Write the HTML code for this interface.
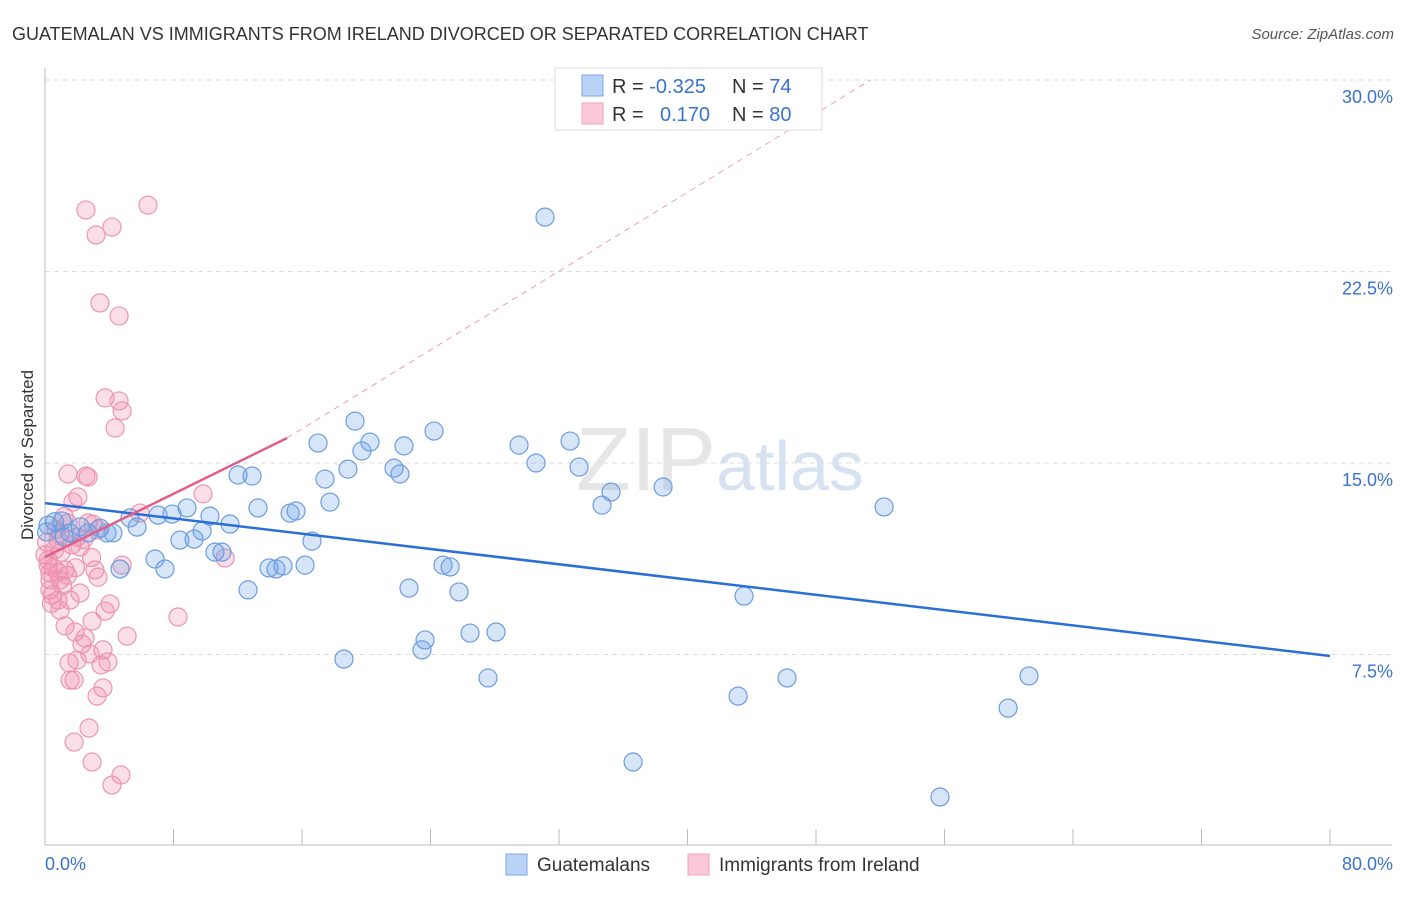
<!DOCTYPE html>
<html><head><meta charset="utf-8"><style>
body{margin:0;background:#fff;font-family:"Liberation Sans",sans-serif}
svg text{font-family:"Liberation Sans",sans-serif}
</style></head><body>
<svg width="1406" height="892">
<text x="12" y="40" font-size="18" fill="#333">GUATEMALAN VS IMMIGRANTS FROM IRELAND DIVORCED OR SEPARATED CORRELATION CHART</text>
<text x="1394" y="39" font-size="15" fill="#555" font-style="italic" text-anchor="end">Source: ZipAtlas.com</text>
<text x="33" y="455" font-size="17" fill="#333" text-anchor="middle" transform="rotate(-90 33 455)">Divorced or Separated</text>
<g id="grid"></g><g id="axes"></g>
<text x="720" y="490" font-size="90" fill="#e6e6e6" text-anchor="middle" font-family="Liberation Serif">ZIP<tspan fill="#d6e2f2" font-family="Liberation Sans" font-size="70">atlas</tspan></text>
<g id="pts"></g><g id="lines"></g>
<g>
<rect x="555" y="68" width="267" height="62" fill="#fff" stroke="#ddd"/>
<rect x="582" y="75" width="21" height="21" fill="#b9d2f5" stroke="#7aa6e6"/>
<rect x="582" y="103" width="21" height="21" fill="#fac8d8" stroke="#f0a0bc"/>
<text x="612" y="93" font-size="20" fill="#333">R = <tspan fill="#3a72d0">-0.325</tspan><tspan x="732">N = </tspan><tspan fill="#3a72d0">74</tspan></text>
<text x="612" y="121" font-size="20" fill="#333">R = <tspan x="660" fill="#3a72d0">0.170</tspan><tspan x="732">N = </tspan><tspan fill="#3a72d0">80</tspan></text>
</g>
<g>
<rect x="506" y="854" width="21" height="21" fill="#b9d2f5" stroke="#7aa6e6"/>
<text x="537" y="871" font-size="19" fill="#333">Guatemalans</text>
<rect x="688" y="854" width="21" height="21" fill="#fac8d8" stroke="#f0a0bc"/>
<text x="719" y="871" font-size="19" fill="#333">Immigrants from Ireland</text>
</g>
</svg>
<script>
const yTicks=[7.5,15,22.5,30];
const yTickLabels=["7.5%","15.0%","22.5%","30.0%"];
const xTicks=[0,8,16,24,32,40,48,56,64,72,80];
const xEndLabels=["0.0%","80.0%"];
const blueX=[31.13,0.19,1.06,1.56,2.68,3.42,3.86,4.23,4.67,5.73,5.29,6.85,7.04,7.47,7.91,8.84,8.40,9.28,9.78,10.27,10.58,11.02,11.52,12.02,12.89,13.26,12.64,13.95,14.38,14.82,15.26,15.63,16.19,16.62,17.00,17.43,17.74,18.61,18.86,19.30,19.73,20.23,21.73,22.10,22.35,22.66,23.66,23.47,24.22,24.78,25.22,25.78,26.46,28.08,27.58,29.51,30.57,32.69,33.25,34.68,35.24,36.61,38.48,43.15,43.52,46.20,52.24,55.72,59.96,61.26,0.6,0.1,1.2,2.2];
const blueY=[24.63,12.57,12.73,12.26,12.26,12.45,12.26,12.26,10.85,12.49,12.85,11.24,12.96,10.85,13.00,13.24,11.98,12.02,12.34,12.92,11.51,11.51,12.61,14.53,14.49,13.24,10.03,10.89,10.85,10.97,13.04,13.12,11.00,11.94,15.78,14.37,13.47,7.32,14.76,16.64,15.47,15.82,14.80,14.57,15.67,10.10,8.07,7.68,16.25,11.00,10.93,9.95,8.34,8.38,6.58,15.70,15.00,15.86,14.84,13.35,13.86,3.29,14.06,5.87,9.79,6.58,13.28,1.92,5.40,6.66,12.7,12.3,12.1,12.5];
const pinkX=[2.55,6.41,4.17,3.18,3.42,4.61,3.74,4.61,4.80,4.36,1.43,2.55,2.05,1.74,2.68,9.84,5.91,1.43,3.30,2.68,0.81,1.68,2.18,11.21,0.19,0.81,1.25,3.11,3.30,4.80,0.93,0.31,0.81,1.56,2.18,4.05,3.74,0.93,8.28,1.25,2.93,1.87,2.49,2.30,5.11,2.80,3.61,1.99,1.50,3.92,3.49,1.81,1.56,3.61,3.24,2.74,1.81,2.93,4.73,4.17,0,0.31,0.44,0.93,0.2,0.5,1.0,2.0,1.1,0.3,0.6,1.4,2.4,0.1,0.7,3.0,1.9,0.4,2.9,1.2];
const pinkY=[24.91,25.10,24.24,23.93,21.27,20.76,17.55,17.43,17.04,16.37,14.57,14.49,13.67,13.47,14.45,13.79,13.04,12.65,12.38,12.65,11.98,11.79,11.71,11.28,11.00,10.73,10.81,10.81,10.53,11.00,10.42,10.03,9.63,9.63,9.91,9.48,9.20,9.24,8.97,8.62,8.81,8.38,8.15,7.91,8.22,7.52,7.68,7.28,7.17,7.21,7.09,6.50,6.50,6.19,5.87,4.62,4.07,3.29,2.78,2.39,11.40,10.42,9.83,12.26,11.2,10.9,11.5,12.1,10.2,10.7,11.6,10.6,12.0,11.9,12.4,12.6,10.9,9.5,11.3,12.9];
const blueLine=[[0,13.43],[80,7.44]];
const pinkLine=[[0,11.32],[15.07,15.98]];
const pinkDash=[[15.07,15.98],[51.4,30]];
const X=v=>45+v/80*1285, Y=v=>846-v/7.5*191.5;
const NS="http://www.w3.org/2000/svg";
function mk(tag,attrs,parent){const e=document.createElementNS(NS,tag);for(const k in attrs)e.setAttribute(k,attrs[k]);document.getElementById(parent).appendChild(e);return e;}
yTicks.forEach((t,i)=>{
 const l=mk('line',{x1:45,x2:1392,y1:Y(t),y2:Y(t),stroke:'#ddd','stroke-dasharray':'5,4'},'grid');
 
 
 const tx=mk('text',{x:1393,y:Y(t)+23,'font-size':18,fill:'#3a72d0','text-anchor':'end'},'grid');
 tx.textContent=yTickLabels[i];
 
 
});
const ax=mk('line',{x1:45,x2:1392,y1:845,y2:845,stroke:'#bbb'},'axes');


const ay=mk('line',{x1:45,x2:45,y1:68,y2:845,stroke:'#bbb'},'axes');


xTicks.forEach(t=>{
 const l=mk('line',{x1:X(t),x2:X(t),y1:829,y2:845,stroke:'#bbb'},'axes');
 
 
});
[[0,'start'],[80,'end']].forEach((p,i)=>{
 const tx=mk('text',{x:i?1393:45,y:870,'font-size':18,fill:'#3a72d0','text-anchor':p[1]},'axes');
 tx.textContent=xEndLabels[i];
 
 
});
pinkX.forEach((x,i)=>{
 const c=mk('circle',{cx:X(x),cy:Y(pinkY[i]),r:9,fill:'rgba(242,140,172,0.28)',stroke:'#ec95b2','stroke-width':1.2},'pts');
 
 
});
blueX.forEach((x,i)=>{
 const c=mk('circle',{cx:X(x),cy:Y(blueY[i]),r:9,fill:'rgba(110,160,230,0.28)',stroke:'#6b9ce0','stroke-width':1.2},'pts');
 
 
});
const bl=mk('line',{x1:X(blueLine[0][0]),y1:Y(blueLine[0][1]),x2:X(blueLine[1][0]),y2:Y(blueLine[1][1]),stroke:'#2a6fd6','stroke-width':2.5},'lines');


const pl=mk('line',{x1:X(pinkLine[0][0]),y1:Y(pinkLine[0][1]),x2:X(pinkLine[1][0]),y2:Y(pinkLine[1][1]),stroke:'#e35d8a','stroke-width':2.5},'lines');


const pd=mk('line',{x1:X(pinkDash[0][0]),y1:Y(pinkDash[0][1]),x2:X(pinkDash[1][0]),y2:Y(pinkDash[1][1]),stroke:'#eaa0b8','stroke-width':1,'stroke-dasharray':'6,5'},'lines');


</script>
</body></html>
